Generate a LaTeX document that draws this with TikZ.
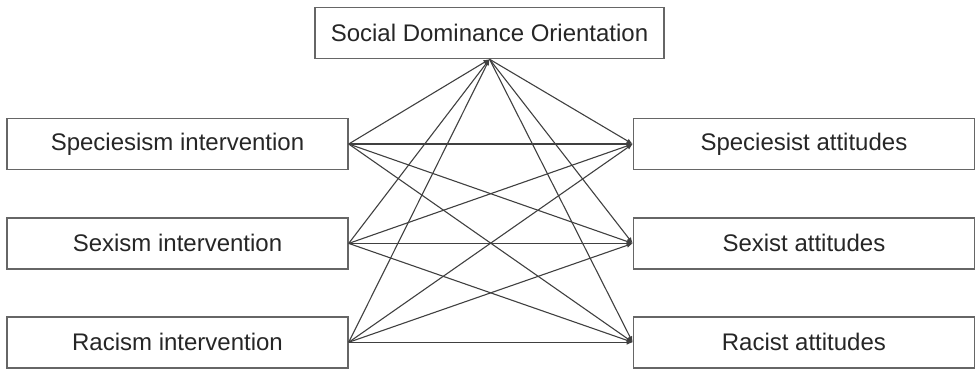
\documentclass[tikz,border=0pt]{standalone}
\usepackage{fontspec}
\setmainfont{Liberation Sans}
\usetikzlibrary{arrows.meta, positioning}
\tikzset{
    % plain boxes, all the same size
    box/.style = {rectangle, draw=black!60, line width=1.4pt, minimum width=341pt, minimum height=51pt, inner sep=0pt, align=center, text=black!85, font=\fontsize{24}{28}\selectfont},
    link/.style = {draw=black!75, line width=1.1pt, -{Latex[length=6pt,width=5pt]}}
}

\begin{document}
\begin{tikzpicture}[x=1pt, y=1pt]
\useasboundingbox (0,0) rectangle (976,-368);

% Nodes
\node[box, minimum width=349pt] (sdo) at (489.5,-33) {Social Dominance Orientation};
\node[box] (speciesism_int) at (177.5,-144) {Speciesism intervention};
\node[box, below=47pt of speciesism_int] (sexism_int) {Sexism intervention};
\node[box, below=46.5pt of sexism_int] (racism_int) {Racism intervention};
\node[box, right=284pt of speciesism_int] (speciesist_att) {Speciesist attitudes};
\node[box, right=284pt of sexism_int] (sexist_att) {Sexist attitudes};
\node[box, right=284pt of racism_int] (racist_att) {Racist attitudes};

% Arrows
\foreach \src in {speciesism_int, sexism_int, racism_int} {
    \draw[link] (\src.east) -- (sdo.south);
    \foreach \dst in {speciesist_att, sexist_att, racist_att}
        \draw[link] (\src.east) -- (\dst.west);
}
\foreach \dst in {speciesist_att, sexist_att, racist_att}
    \draw[link] (sdo.south) -- (\dst.west);

\end{tikzpicture}
\end{document}
